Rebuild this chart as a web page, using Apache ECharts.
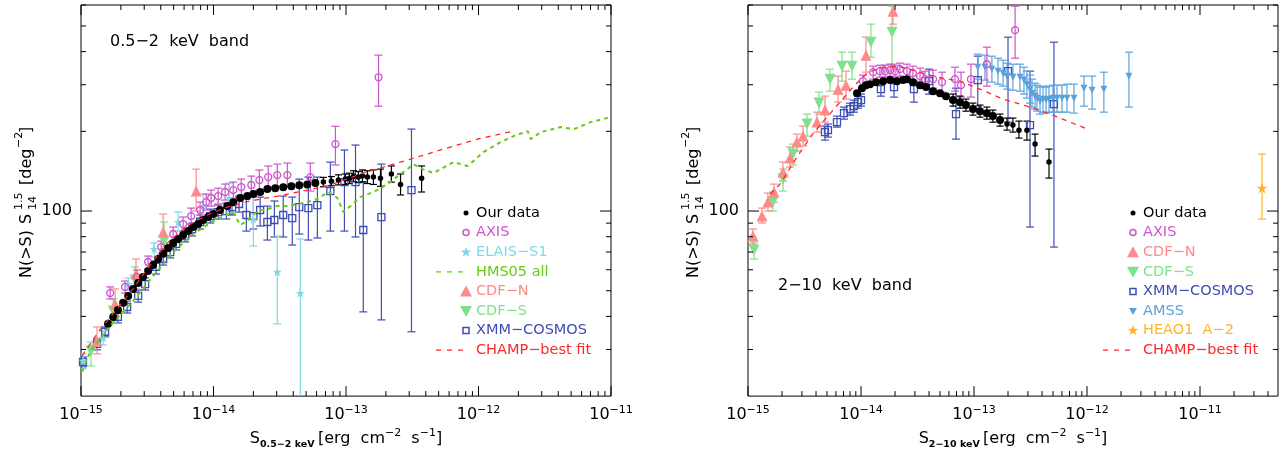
<!DOCTYPE html>
<html>
<head>
<meta charset="utf-8">
<script src="https://cdn.jsdelivr.net/npm/echarts@6.0.0/dist/echarts.min.js"></script>
<style>
  html, body { margin: 0; padding: 0; background: #fff; }
  #chart { width: 1287px; height: 455px; }
</style>
</head>
<body>
<div id="chart"></div>
<script>
// ---- 0.5-2 keV band (left panel) ----
// points: [S, N(>S)S^1.5] ; with errors: [S, value, low, high]
var softOur = [[1.6e-15,37.5],[1.75e-15,39.8],[1.9e-15,42.3],[2.08e-15,45],[2.27e-15,47.8],[2.47e-15,50.8],[2.7e-15,53.5],[2.94e-15,56.4],[3.21e-15,59.4],[3.5e-15,62.5],[3.82e-15,65.9],[4.17e-15,68.9],[4.55e-15,72.5],[4.96e-15,75.7],[5.41e-15,78.4],[5.9e-15,81.2],[6.44e-15,84],[7.03e-15,87],[7.66e-15,89.3],[8.36e-15,92.5],[9.12e-15,94.9],[1.0e-14,97.4],[1.12e-14,100.9],[1.27e-14,104.4],[1.41e-14,108],[1.59e-14,112],[1.8e-14,114],[2.0e-14,116],[2.25e-14,118],[2.55e-14,121],[2.92e-14,122],[3.36e-14,123],[3.87e-14,124],[4.44e-14,125],[5.1e-14,126],[5.87e-14,127.5],[6.75e-14,128.6],[7.76e-14,129.7],[8.77e-14,131],[9.9e-14,132],[1.06e-13,133],[1.14e-13,135.6],[1.24e-13,134.3],[1.33e-13,135.6],[1.45e-13,134.3],[1.61e-13,134.3],[1.82e-13,133],[2.2e-13,138],[2.58e-13,126],[3.72e-13,133]];
var softOurErr = [[6.75e-14,0,123.5,134],[7.76e-14,0,124.5,135],[8.77e-14,0,125.5,137],[9.9e-14,0,126,138],[1.06e-13,0,127,139],[1.14e-13,0,129,142],[1.24e-13,0,128,141],[1.33e-13,0,129,143],[1.45e-13,0,127,142],[1.61e-13,0,126,143],[1.82e-13,0,124,144],[2.2e-13,0,128.6,148],[2.58e-13,0,115,138],[3.72e-13,0,118,148]];
var softAxis = [[1.66e-15,49.0,46.6,51.7],[2.15e-15,51.7,49.0,54.4],[2.65e-15,56.4,53.0,59.9],[3.21e-15,64.2,60.4,67.6],[4.03e-15,73.1,68.8,77.0],[4.96e-15,81.9,77.0,87.0],[5.9e-15,89.3,84.0,94.9],[6.78e-15,95.7,89.3,102.6],[7.93e-15,100.9,94.1,108.1],[8.81e-15,108.1,100.9,115.9],[9.6e-15,112,104.4,120],[1.085e-14,113.9,106.3,122],[1.225e-14,118,110,126.4],[1.41e-14,120,112,128.6],[1.62e-14,123.2,114.9,132],[1.93e-14,125.4,116,135.5],[2.22e-14,130.9,120,142.8],[2.59e-14,134.3,123.2,147.9],[3.03e-14,136.7,124.3,150.4],[3.61e-14,136.7,123.2,151.7],[5.38e-14,134.3,119,151.7],[8.32e-14,179,149.2,209],[1.76e-13,320,249,388]];
var softElais = [[1.035e-15,27.2,25.4,28.9],[1.47e-15,33.2,31.2,35.3],[2.27e-15,53.0,50.3,55.9],[3.56e-15,71.9,67.0,75.7],[5.41e-15,90.9,84.0,99.1],[8.36e-15,104.4,93.3,115.9],[1.31e-14,112,99.1,127.5],[2.0e-14,93.3,73.8,112.9],[3.03e-14,58.9,37.5,80.5],[4.52e-14,49.0,15,78.4]];
var softCdfN = [[1.32e-15,32.3,28.9,36.5],[1.81e-15,44.6,39.1,50.8],[2.6e-15,57.8,50.8,65.9],[4.17e-15,83.3,71.9,97.4],[7.4e-15,119,100,144]];
var softCdfS = [[1.19e-15,29.6,26.0,32.0],[1.75e-15,41.9,38.1,46.6],[2.56e-15,54.9,49.5,61.5],[4.24e-15,77.0,67.6,90.9]];
var softXmm = [[1.035e-15,26.9,25.8,28.1],[1.32e-15,31.5,29.9,32.9],[1.52e-15,35.0,33.5,36.5],[1.9e-15,39.8,37.8,41.9],[2.23e-15,43.4,41.2,45.7],[2.7e-15,47.8,45.3,50.3],[3.05e-15,53.0,50.3,55.9],[3.69e-15,61.5,57.8,64.8],[4.17e-15,65.9,62.5,69.4],[4.71e-15,70.0,66.5,73.8],[5.22e-15,75.1,71.3,79.1],[6.11e-15,80.5,76.4,84.8],[6.9e-15,85.5,80.5,90.1],[7.93e-15,90.9,85.5,96.6],[9.44e-15,95.7,90.1,101.7],[1.085e-14,99.1,93.3,105.3],[1.25e-14,100,93.3,107.2],[1.38e-14,103.5,96.6,111],[1.56e-14,106.3,99.1,113.9],[1.77e-14,96.6,84.0,111],[2.0e-14,95.7,85.5,115.9],[2.25e-14,100.9,87.8,112.9],[2.55e-14,90.9,77.7,104.4],[2.88e-14,92.5,79.8,109.1],[3.36e-14,96.6,79.8,113.9],[3.93e-14,94.1,74.4,112.9],[4.44e-14,103.5,81.9,132],[5.2e-14,102.6,77.7,134.3],[6.08e-14,105.3,79.1,134.3],[7.62e-14,119,84.0,153],[9.73e-14,128.6,84.0,170],[1.18e-13,128.6,79.8,177.5],[1.35e-13,84.8,41.6,128.6],[1.85e-13,94.9,38.8,150.4],[3.12e-13,120,35.0,204]];
var softHms05 = [[1.018e-15,24.7],[1.17e-15,29.4],[1.66e-15,36.8],[2.47e-15,45.7],[3.5e-15,56.8],[4.96e-15,70.0],[7.03e-15,81.9],[9.95e-15,91.7],[1.41e-14,99.1],[1.59e-14,88.6],[1.8e-14,91.7],[2.14e-14,100],[2.55e-14,101.7],[3.03e-14,104.4],[3.61e-14,104.4],[4.29e-14,106.3],[5.1e-14,108.1],[6.08e-14,111],[7.36e-14,118],[8.61e-14,112],[9.55e-14,99.1],[1.08e-13,104.4],[1.28e-13,112.9],[1.61e-13,118],[2.06e-13,126.4],[2.45e-13,135.5],[2.91e-13,144],[3.23e-13,150.4],[3.78e-13,144],[4.58e-13,139.1],[6.48e-13,153.1],[8.28e-13,147.9],[1.09e-12,167],[1.47e-12,182.1],[1.84e-12,191.9],[2.35e-12,200.4],[2.48e-12,186.9],[2.95e-12,198.7],[4.18e-12,207.5],[5.24e-12,203.9],[7.03e-12,216.7],[1e-11,226.3]];
var softChamp = [[1.018e-15,28.4],[1.39e-15,35.6],[1.87e-15,42.7],[2.47e-15,50.8],[3.15e-15,60.4],[4.47e-15,75.7],[6.33e-15,87.8],[8.96e-15,96.6],[1.27e-14,103.5],[1.89e-14,109.1],[3.03e-14,113.9],[4.76e-14,119],[7.62e-14,125.4],[1.35e-13,139.1],[1.92e-13,146.6],[3.07e-13,157.1],[5.45e-13,171.4],[9.84e-13,186.9],[1.84e-12,200.4]];

// ---- 2-10 keV band (right panel) ----
var hardOur = [[9.22e-15,278.8],[1.02e-14,291.1],[1.107e-14,298.8],[1.2e-14,301.5],[1.36e-14,306.8],[1.57e-14,309.4],[1.81e-14,312.2],[2.08e-14,309.4],[2.35e-14,312.2],[2.55e-14,314.9],[2.88e-14,306.8],[3.33e-14,298.8],[3.76e-14,293.8],[4.34e-14,283.7],[5.0e-14,278.8],[5.65e-14,271.6],[6.52e-14,262.4],[7.52e-14,257.8],[8.49e-14,251.2],[9.8e-14,242.6],[1.13e-13,238.4],[1.3e-13,234.3],[1.47e-13,228.3],[1.7e-13,220.5],[1.96e-13,213],[2.21e-13,211.1],[2.5e-13,202.1],[2.94e-13,202.1],[3.47e-13,179],[4.61e-13,153.1]];
var hardOurErr = [[6.52e-14,0,249,276.6],[7.52e-14,0,244.6,271.7],[8.49e-14,0,238.3,264.8],[9.8e-14,0,230.2,255.7],[1.13e-13,0,226.2,251.3],[1.3e-13,0,222.3,247],[1.47e-13,0,216.6,240.6],[1.7e-13,0,209.2,232.4],[1.96e-13,0,202.1,224.4],[2.21e-13,0,198.7,224.4],[2.5e-13,0,188.6,218.6],[2.94e-13,0,185.3,218.6],[3.47e-13,0,161.3,195.2],[4.61e-13,0,133.2,171.4]];
var hardAxis = [[1.04e-14,309.4,291.1,326.2],[1.28e-14,334.5,314.9,352.5],[1.47e-14,337.5,320.4,355.6],[1.63e-14,337.5,320.4,355.6],[1.81e-14,340.4,323.2,358.7],[2.0e-14,337.5,320.4,355.6],[2.21e-14,343.4,323.2,361.8],[2.55e-14,337.5,320.4,358.7],[2.88e-14,331.7,312.2,352.5],[3.33e-14,323.2,301.5,346.4],[3.68e-14,314.9,293.8,337.5],[4.34e-14,314.9,291.1,340.4],[5.21e-14,306.8,281.2,334.5],[6.79e-14,314.9,283.7,349.4],[7.67e-14,298.8,269.3,334.5],[9.4e-14,314.9,269.3,358.7],[1.3e-13,358.7,296.3,415.7],[2.31e-13,482,377.8,593.7]];
var hardCdfN = [[1.107e-15,80.5,75.1,85.5],[1.33e-15,95.7,90.1,102.6],[1.5e-15,108.1,100,116.9],[1.7e-15,118,108.1,126.4],[2.04e-15,140.3,129.8,153.1],[2.35e-15,158.5,146.6,174.4],[2.71e-15,182.1,168.4,195.2],[3.07e-15,191.9,175.9,209.3],[4.08e-15,216.7,198.7,236.3],[4.8e-15,240.5,216.7,271.6],[6.26e-15,288.6,257.8,323.2],[7.37e-15,298.8,264.6,337.5],[1.107e-14,387.9,334.5,453.6],[1.92e-14,568.6,508,631]];
var hardCdfS = [[1.13e-15,71.3,65.9,76.4],[1.66e-15,108.1,100,118],[2.04e-15,132,119,144],[2.5e-15,164.1,149.2,179],[3.33e-15,213,191.9,232.3],[4.25e-15,255.6,232.3,281.2],[5.32e-15,314.9,283.7,343.4],[6.79e-15,352.5,309.4,398.1],[8.32e-15,352.5,314.9,398.1],[1.225e-14,434.2,381.1,508],[1.88e-14,473.6,358.7,593.7]];
var hardXmm = [[4.8e-15,198.7,185.3,209.3],[5.1e-15,202.1,190.2,213],[6.13e-15,216.7,207.5,228.3],[7.07e-15,234.3,222.4,246.9],[7.99e-15,242.6,230.3,255.6],[8.67e-15,249,236.3,262.4],[9.41e-15,257.8,244.7,271.6],[1e-14,262.4,249,276.4],[1.5e-14,288.6,271.6,306.8],[1.96e-14,293.8,269.3,309.4],[2.94e-14,288.6,257.8,309.4],[4.0e-14,309.4,276.4,343.4],[6.93e-14,232.3,186.9,291.1],[1.08e-13,312.2,249,384.5],[2.0e-13,337.5,216.7,453.6],[3.13e-13,211.1,87.0,337.5],[5.1e-13,253.3,73.1,434.2]];
var hardAmss = [[1.08e-13,349.4,314.9,391.3],[1.25e-13,349.4,312.2,387.9],[1.44e-13,343.4,306.8,384.5],[1.63e-13,337.5,301.5,377.8],[1.81e-13,331.7,296.3,371.4],[1.96e-13,323.2,288.6,361.8],[2.21e-13,320.4,286.1,358.7],[2.55e-13,320.4,283.7,358.7],[2.77e-13,312.2,276.4,349.4],[2.94e-13,301.5,266.9,337.5],[3.13e-13,288.6,255.6,326.2],[3.26e-13,278.8,246.9,314.9],[3.47e-13,271.6,242.6,304.1],[3.61e-13,266.9,238.4,298.8],[3.84e-13,260.1,232.3,293.8],[4.08e-13,264.6,236.3,296.3],[4.34e-13,262.4,234.3,293.8],[4.61e-13,264.6,236.3,296.3],[5.0e-13,266.9,236.3,298.8],[5.43e-13,266.9,236.3,298.8],[6.01e-13,266.9,236.3,298.8],[6.65e-13,266.9,236.3,301.5],[7.67e-13,266.9,234.3,301.5],[9.4e-13,291.1,249,323.2],[1.11e-12,286.1,242.6,323.2],[1.41e-12,288.6,236.3,334.5],[2.35e-12,323.2,246.9,398.1]];
var hardHeao1 = [[3.54e-11,122.1,93.3,164.1]];
var hardChamp = [[1.57e-15,115.9],[1.92e-15,126.4],[2.71e-15,159.9],[3.68e-15,193.6],[5.0e-15,226.3],[6.52e-15,257.8],[8.5e-15,293.8],[1.13e-14,331.7],[1.39e-14,343.4],[1.57e-14,349.4],[2.08e-14,352.5],[2.88e-14,340.4],[4.71e-14,320.4],[7.52e-14,309.4],[1.13e-13,288.6],[1.81e-13,264.6],[2.94e-13,249],[4.71e-13,232.3],[9.6e-13,205.7]];

// axis ranges
var softXRange = [1e-15, 1e-11];
var hardXRange = [1e-15, 4.9e-11];
var yRange = [20, 600];
var yMajor = [100];

var FONT = '"DejaVu Sans", sans-serif';
var C = {
  our: '#000000', axis: '#cc55cc', elais: '#80d8e8', hms: '#66cc11',
  cdfn: '#ff8a8a', cdfs: '#80e08c', xmm: '#3e4db4', champ: '#ff2828',
  amss: '#5aa2dc', heao: '#ffb42a'
};
var STAR = 'path://M50,0 L61.8,34.5 L97.6,34.5 L68.5,55.9 L79.4,90.5 L50,69.1 L20.6,90.5 L31.5,55.9 L2.4,34.5 L38.2,34.5 Z';

function decadeTicks(lo, hi) {
  var major = [], minor = [];
  for (var e = Math.floor(Math.log10(lo)); e <= Math.ceil(Math.log10(hi)); e++) {
    for (var k = 1; k <= 9; k++) {
      var v = k * Math.pow(10, e);
      if (v < lo * 0.999 || v > hi * 1.001) continue;
      (k === 1 ? major : minor).push(v);
    }
  }
  return { major: major, minor: minor };
}

function tickData(xr) {
  var xt = decadeTicks(xr[0], xr[1]);
  var yt = decadeTicks(yRange[0], yRange[1]);
  var out = [];
  xt.major.forEach(function (v) { out.push([v, 100, 0, 10]); });
  xt.minor.forEach(function (v) { out.push([v, 100, 0, 5]); });
  yt.minor.forEach(function (v) { if (v > yRange[0] * 1.01) out.push([1e-14, v, 1, 5]); });
  yMajor.forEach(function (v) { out.push([1e-14, v, 1, 11]); });
  return out;
}

function renderTick(params, api) {
  var cs = params.coordSys;
  var p = api.coord([api.value(0), api.value(1)]);
  var len = api.value(3);
  var st = { stroke: '#000', lineWidth: 1 };
  if (api.value(2) === 0) {
    var yb = cs.y + cs.height;
    return { type: 'group', children: [
      { type: 'line', shape: { x1: p[0], y1: yb, x2: p[0], y2: yb - len }, style: st },
      { type: 'line', shape: { x1: p[0], y1: cs.y, x2: p[0], y2: cs.y + len }, style: st }
    ] };
  }
  var xr = cs.x + cs.width;
  return { type: 'group', children: [
    { type: 'line', shape: { x1: cs.x, y1: p[1], x2: cs.x + len, y2: p[1] }, style: st },
    { type: 'line', shape: { x1: xr, y1: p[1], x2: xr - len, y2: p[1] }, style: st }
  ] };
}

function errBar(cap) {
  return function (params, api) {
    var x = api.value(0);
    var a = api.coord([x, api.value(1)]);
    var b = api.coord([x, api.value(2)]);
    var st = { stroke: api.visual('color'), lineWidth: 1.2 };
    return { type: 'group', children: [
      { type: 'line', shape: { x1: a[0], y1: a[1], x2: b[0], y2: b[1] }, style: st },
      { type: 'line', shape: { x1: a[0] - cap, y1: a[1], x2: a[0] + cap, y2: a[1] }, style: st },
      { type: 'line', shape: { x1: b[0] - cap, y1: b[1], x2: b[0] + cap, y2: b[1] }, style: st }
    ] };
  };
}

function errSeries(rows, color, gi, cap) {
  return {
    type: 'custom', xAxisIndex: gi, yAxisIndex: gi, clip: true, silent: true,
    itemStyle: { color: color }, renderItem: errBar(cap || 4),
    encode: { x: 0, y: [1, 2] },
    data: rows.map(function (r) { return [r[0], r[2], r[3]]; })
  };
}

function pointSeries(rows, color, symbol, size, gi, opts) {
  opts = opts || {};
  return {
    type: 'scatter', xAxisIndex: gi, yAxisIndex: gi, silent: true,
    symbol: symbol, symbolSize: size, symbolRotate: opts.rotate || 0,
    itemStyle: opts.open
      ? { color: 'rgba(0,0,0,0)', borderColor: color, borderWidth: 1.3, opacity: 1 }
      : { color: color, opacity: 1 },
    data: rows.map(function (r) { return [r[0], r[1]]; })
  };
}

function lineSeries(rows, color, width, dash, gi) {
  return {
    type: 'line', xAxisIndex: gi, yAxisIndex: gi, silent: true, symbol: 'none',
    lineStyle: { color: color, width: width, type: dash }, data: rows
  };
}

function tickSeries(gi, xr) {
  return { type: 'custom', xAxisIndex: gi, yAxisIndex: gi, clip: false, silent: true, z: 10,
    renderItem: renderTick, data: tickData(xr) };
}

// the faint end of "our data" is a dense band of points
function ourSize(limit) {
  return function (v) { return v[0] < limit ? 8 : 5.5; };
}

function expLabel(v) {
  var e = Math.log10(v), r = Math.round(e);
  if (Math.abs(e - r) > 1e-6) return '';
  return '{b|10}{s|' + (r < 0 ? '\u2212' : '') + Math.abs(r) + '}';
}

function xAxisCfg(gi, xr, sub) {
  return {
    type: 'log', gridIndex: gi, min: xr[0], max: xr[1],
    axisLine: { show: false }, axisTick: { show: false }, splitLine: { show: false },
    axisLabel: {
      formatter: expLabel, margin: 9, showMinLabel: true, showMaxLabel: true,
      rich: {
        b: { fontSize: 16, fontFamily: FONT, color: '#000', lineHeight: 20 },
        s: { fontSize: 11, fontFamily: FONT, color: '#000', lineHeight: 8, verticalAlign: 'top' }
      }
    },
    name: '{m|S}{sub|' + sub + '} {m|[erg  cm}{sup|\u22122}{m|  s}{sup|\u22121}{m|]}',
    nameLocation: 'middle', nameGap: 25,
    nameTextStyle: {
      rich: {
        m: { fontSize: 16, fontFamily: FONT, color: '#000', lineHeight: 22 },
        sub: { fontSize: 9.5, fontWeight: 'bold', fontFamily: FONT, color: '#000', lineHeight: 8, verticalAlign: 'bottom' },
        sup: { fontSize: 11, fontFamily: FONT, color: '#000', lineHeight: 8, verticalAlign: 'top' }
      }
    }
  };
}

function yAxisCfg(gi) {
  return {
    type: 'log', gridIndex: gi, min: yRange[0], max: yRange[1],
    axisLine: { show: false }, axisTick: { show: false }, splitLine: { show: false },
    axisLabel: {
      margin: 9, fontSize: 16, fontFamily: FONT, color: '#000',
      formatter: function (v) { return Math.abs(v - 100) < 1e-6 ? '100' : ''; }
    }
  };
}

function yTitle(x) {
  var f = '16px ' + FONT, fs = '11px ' + FONT;
  function t(tx, ty, str, font) {
    return { type: 'text', x: tx, y: ty, style: { text: str, font: font, fill: '#000', textVerticalAlign: 'middle' } };
  }
  return { type: 'group', x: x, y: 280, rotation: Math.PI / 2, children: [
    t(2, 0, 'N(>S)', f), t(56, 0, 'S', f), t(70, -8, '1.5', fs), t(70, 6, '14', fs),
    t(95, 0, '[deg', f), t(132, -8, '\u22122', fs), t(147, 0, ']', f)
  ] };
}

function legendGraphic(dashX, symX, textX, y0, items) {
  var out = [];
  items.forEach(function (it, i) {
    var cy = y0 + i * 19.6;
    out.push({ type: 'text', x: textX, y: cy, style: { text: it.name, fill: it.color, font: '14.5px ' + FONT, textVerticalAlign: 'middle' } });
    var k = it.kind, col = it.color, sym;
    if (k === 'dot') sym = { type: 'circle', shape: { cx: symX, cy: cy, r: 2.5 }, style: { fill: col } };
    else if (k === 'ocircle') sym = { type: 'circle', shape: { cx: symX, cy: cy, r: 3 }, style: { fill: null, stroke: col, lineWidth: 1.5 } };
    else if (k === 'osquare') sym = { type: 'rect', shape: { x: symX - 3, y: cy - 3, width: 6, height: 6 }, style: { fill: null, stroke: col, lineWidth: 1.5 } };
    else if (k === 'tri') sym = { type: 'polygon', shape: { points: [[symX, cy - 6], [symX + 6, cy + 5], [symX - 6, cy + 5]] }, style: { fill: col } };
    else if (k === 'dtri') sym = { type: 'polygon', shape: { points: [[symX - 6, cy - 5], [symX + 6, cy - 5], [symX, cy + 6]] }, style: { fill: col } };
    else if (k === 'sdtri') sym = { type: 'polygon', shape: { points: [[symX - 4, cy - 3], [symX + 4, cy - 3], [symX, cy + 4]] }, style: { fill: col } };
    else if (k === 'star') {
      var pts = [];
      for (var j = 0; j < 10; j++) {
        var rr = j % 2 ? 2.2 : 5.5, ang = -Math.PI / 2 + j * Math.PI / 5;
        pts.push([symX + rr * Math.cos(ang), cy + rr * Math.sin(ang)]);
      }
      sym = { type: 'polygon', shape: { points: pts }, style: { fill: col } };
    } else if (k === 'dash') {
      sym = { type: 'line', shape: { x1: dashX, y1: cy, x2: symX - 3, y2: cy }, style: { stroke: col, lineWidth: 1.3, lineDash: [5, 6] } };
    }
    out.push(sym);
  });
  return out;
}

var softLegend = [
  { name: 'Our data', color: C.our, kind: 'dot' },
  { name: 'AXIS', color: C.axis, kind: 'ocircle' },
  { name: 'ELAIS\u2212S1', color: C.elais, kind: 'star' },
  { name: 'HMS05 all', color: C.hms, kind: 'dash' },
  { name: 'CDF\u2212N', color: C.cdfn, kind: 'tri' },
  { name: 'CDF\u2212S', color: C.cdfs, kind: 'dtri' },
  { name: 'XMM\u2212COSMOS', color: C.xmm, kind: 'osquare' },
  { name: 'CHAMP\u2212best fit', color: C.champ, kind: 'dash' }
];
var hardLegend = [
  { name: 'Our data', color: C.our, kind: 'dot' },
  { name: 'AXIS', color: C.axis, kind: 'ocircle' },
  { name: 'CDF\u2212N', color: C.cdfn, kind: 'tri' },
  { name: 'CDF\u2212S', color: C.cdfs, kind: 'dtri' },
  { name: 'XMM\u2212COSMOS', color: C.xmm, kind: 'osquare' },
  { name: 'AMSS', color: C.amss, kind: 'sdtri' },
  { name: 'HEAO1  A\u22122', color: C.heao, kind: 'star' },
  { name: 'CHAMP\u2212best fit', color: C.champ, kind: 'dash' }
];

var graphics = [
  { type: 'text', x: 110, y: 42, style: { text: '0.5\u22122  keV  band', font: '16px ' + FONT, fill: '#000', textVerticalAlign: 'middle' } },
  { type: 'text', x: 778, y: 286, style: { text: '2\u221210  keV  band', font: '16px ' + FONT, fill: '#000', textVerticalAlign: 'middle' } },
  yTitle(27), yTitle(694)
].concat(legendGraphic(436, 466, 476, 213, softLegend))
 .concat(legendGraphic(1103, 1133, 1143, 213, hardLegend));

var series = [
  // left panel
  lineSeries(softHms05, C.hms, 2, [4, 4], 0),
  lineSeries(softChamp, C.champ, 1.3, [5, 5], 0),
  errSeries(softXmm, C.xmm, 0), pointSeries(softXmm, C.xmm, 'rect', 7, 0, { open: true }),
  errSeries(softElais, C.elais, 0), pointSeries(softElais, C.elais, STAR, 9, 0),
  errSeries(softCdfS, C.cdfs, 0), pointSeries(softCdfS, C.cdfs, 'triangle', 11, 0, { rotate: 180 }),
  errSeries(softCdfN, C.cdfn, 0), pointSeries(softCdfN, C.cdfn, 'triangle', 11, 0),
  errSeries(softAxis, C.axis, 0), pointSeries(softAxis, C.axis, 'circle', 7, 0, { open: true }),
  errSeries(softOurErr, C.our, 0, 3.5), pointSeries(softOur, C.our, 'circle', ourSize(6.5e-14), 0),
  tickSeries(0, softXRange),
  // right panel
  lineSeries(hardChamp, C.champ, 1.3, [5, 5], 1),
  errSeries(hardXmm, C.xmm, 1), pointSeries(hardXmm, C.xmm, 'rect', 7, 1, { open: true }),
  errSeries(hardCdfS, C.cdfs, 1), pointSeries(hardCdfS, C.cdfs, 'triangle', 11, 1, { rotate: 180 }),
  errSeries(hardCdfN, C.cdfn, 1), pointSeries(hardCdfN, C.cdfn, 'triangle', 11, 1),
  errSeries(hardAmss, C.amss, 1), pointSeries(hardAmss, C.amss, 'triangle', 7, 1, { rotate: 180 }),
  errSeries(hardAxis, C.axis, 1), pointSeries(hardAxis, C.axis, 'circle', 7, 1, { open: true }),
  errSeries(hardHeao1, C.heao, 1), pointSeries(hardHeao1, C.heao, STAR, 11, 1),
  errSeries(hardOurErr, C.our, 1, 3.5), pointSeries(hardOur, C.our, 'circle', ourSize(1.9e-13), 1),
  tickSeries(1, hardXRange)
];

var chart = echarts.init(document.getElementById('chart'), null, { renderer: 'canvas' });
chart.setOption({
  animation: false,
  backgroundColor: '#fff',
  grid: [
    { left: 81, top: 5, width: 530, height: 392, show: true, borderColor: '#000', borderWidth: 1, backgroundColor: 'transparent' },
    { left: 748, top: 5, width: 530, height: 392, show: true, borderColor: '#000', borderWidth: 1, backgroundColor: 'transparent' }
  ],
  xAxis: [xAxisCfg(0, softXRange, '0.5\u22122 keV'), xAxisCfg(1, hardXRange, '2\u221210 keV')],
  yAxis: [yAxisCfg(0), yAxisCfg(1)],
  graphic: graphics,
  series: series
});
</script>
</body>
</html>
